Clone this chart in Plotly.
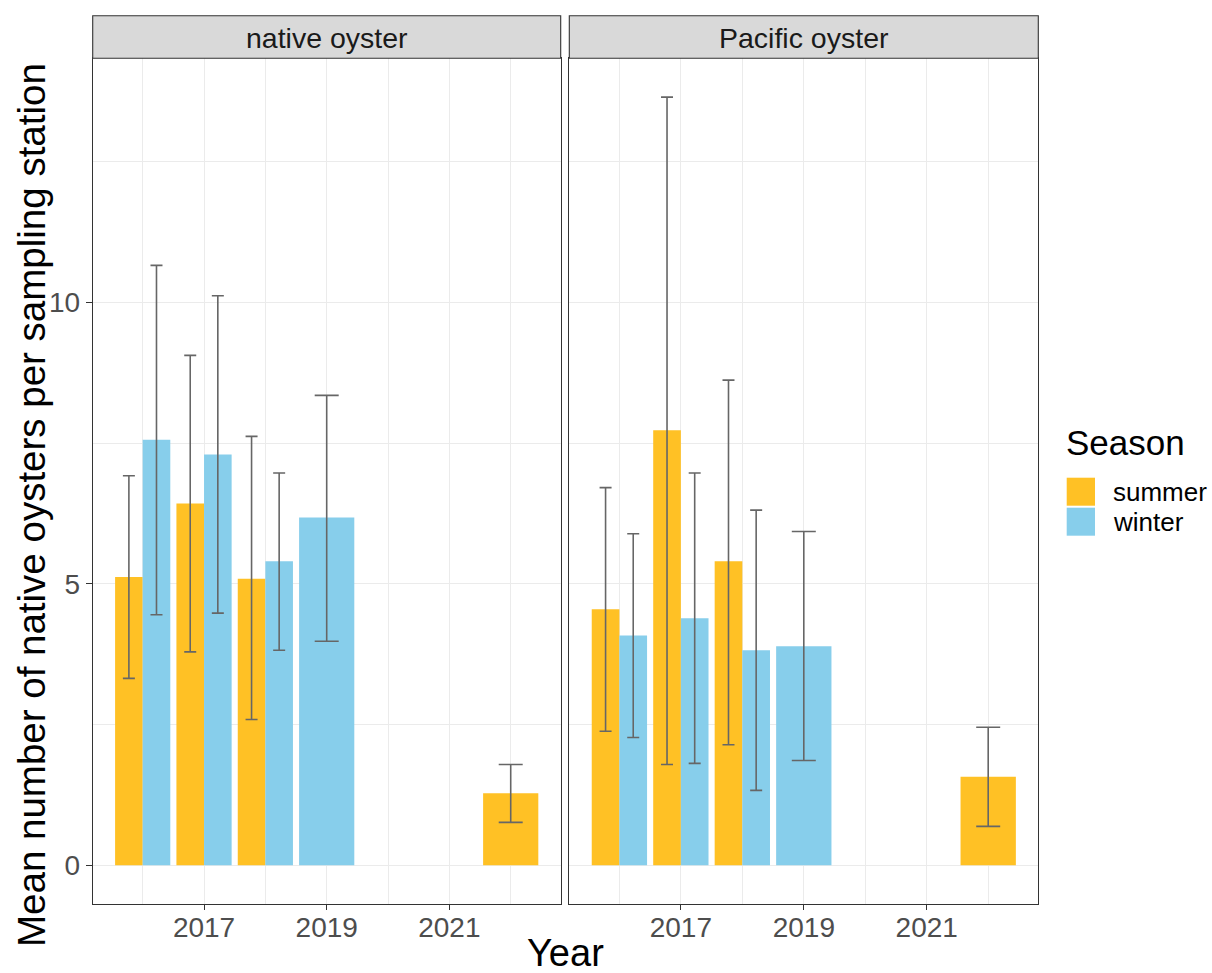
import plotly.graph_objects as go

# ---------------- data ----------------
years = [2016, 2016, 2017, 2017, 2018, 2018, 2019, 2022]
seasons = ["summer", "winter", "summer", "winter", "summer", "winter", "winter", "summer"]

native_mean = [5.12, 7.56, 6.43, 7.30, 5.09, 5.40, 6.18, 1.28]
native_lo = [3.32, 4.45, 3.79, 4.48, 2.59, 3.82, 3.98, 0.76]
native_hi = [6.92, 10.66, 9.06, 10.12, 7.62, 6.97, 8.35, 1.79]

pacific_mean = [4.55, 4.08, 7.73, 4.39, 5.40, 3.82, 3.89, 1.57]
pacific_lo = [2.38, 2.27, 1.79, 1.81, 2.14, 1.33, 1.86, 0.69]
pacific_hi = [6.71, 5.89, 13.65, 6.97, 8.62, 6.31, 5.93, 2.45]

facet_labels = ["native oyster", "Pacific oyster"]
season_order = ["summer", "winter"]
x_ticks = [2017, 2019, 2021]
x_minor = [2016, 2018, 2020, 2022]
y_ticks = [0, 5, 10]
y_minor = [2.5, 7.5, 12.5]

# ---------------- styling ----------------
colors = {"summer": "#FFC125", "winter": "#87CEEB"}
FONT = "Liberation Sans, Arial, sans-serif"
W, H = 1212, 973

def px_x(p):
    return p / W

def px_y(p):
    return 1 - p / H

x_domains = [[px_x(92.7), px_x(560.7)], [px_x(569.3), px_x(1038.3)]]
y_domain = [px_y(904), px_y(58.3)]
strip_top = px_y(15.7)
x_range = [2015.185, 2022.815]
y_range = [-0.69, 14.34]

# dodge positions (position_dodge, width 0.9)
pairs = set(zip(years, seasons))
widths, offsets, centers, nslots = [], [], [], []
for yr, s in zip(years, seasons):
    present = [ss for ss in season_order if (yr, ss) in pairs]
    n = len(present)
    w = 0.9 / n
    off = -0.45 + present.index(s) * w
    widths.append(w)
    offsets.append(off)
    centers.append(yr + off + w / 2)
    nslots.append(n)

fig = go.Figure()
panel_data = [
    (native_mean, native_lo, native_hi, "x", "y"),
    (pacific_mean, pacific_lo, pacific_hi, "x2", "y2"),
]

for mean, lo, hi, xa, ya in panel_data:
    for s in season_order:
        idx = [i for i, ss in enumerate(seasons) if ss == s]
        fig.add_trace(go.Bar(
            x=[years[i] for i in idx],
            y=[mean[i] for i in idx],
            width=[widths[i] for i in idx],
            offset=[offsets[i] for i in idx],
            marker=dict(color=colors[s], line=dict(width=0)),
            name=s, showlegend=False, xaxis=xa, yaxis=ya,
        ))
    for n, capw in [(2, 6), (1, 12)]:
        idx = [i for i in range(len(years)) if nslots[i] == n]
        fig.add_trace(go.Scatter(
            x=[centers[i] for i in idx],
            y=[mean[i] for i in idx],
            mode="markers",
            marker=dict(size=1, color="rgba(0,0,0,0)"),
            error_y=dict(type="data", symmetric=False,
                         array=[hi[i] - mean[i] for i in idx],
                         arrayminus=[mean[i] - lo[i] for i in idx],
                         color="#666666", thickness=1.6, width=capw),
            showlegend=False, xaxis=xa, yaxis=ya, hoverinfo="skip",
        ))

grid = "#EBEBEB"
xaxis_common = dict(
    range=x_range, tickmode="array", tickvals=x_ticks,
    ticktext=[str(t) for t in x_ticks],
    ticks="outside", ticklen=5, tickwidth=1.1, tickcolor="#333333",
    tickfont=dict(family=FONT, size=28, color="#4D4D4D"),
    ticklabelstandoff=-7,
    showgrid=True, gridcolor=grid, gridwidth=1.1,
    minor=dict(tickvals=x_minor, showgrid=True, gridcolor=grid, gridwidth=0.7, ticks=""),
    zeroline=False, showline=True, mirror=True, linecolor="#333333", linewidth=1.1,
    fixedrange=True,
)
yaxis_common = dict(
    range=y_range, tickmode="array", tickvals=y_ticks,
    showgrid=True, gridcolor=grid, gridwidth=1.1,
    minor=dict(tickvals=y_minor, showgrid=True, gridcolor=grid, gridwidth=0.7, ticks=""),
    zeroline=False, showline=True, mirror=True, linecolor="#333333", linewidth=1.1,
    domain=y_domain, fixedrange=True,
)

fig.update_layout(
    width=W, height=H,
    margin=dict(l=0, r=0, t=0, b=0),
    paper_bgcolor="white", plot_bgcolor="white",
    barmode="overlay", showlegend=False,
    font=dict(family=FONT),
    xaxis=dict(domain=x_domains[0], anchor="y", **xaxis_common),
    xaxis2=dict(domain=x_domains[1], anchor="y2", **xaxis_common),
    yaxis=dict(anchor="x", ticks="outside", ticklen=6, tickwidth=1.1, tickcolor="#333333",
               tickfont=dict(family=FONT, size=28, color="#4D4D4D"), **yaxis_common),
    yaxis2=dict(anchor="x2", matches="y", showticklabels=False, ticks="", **yaxis_common),
)

shapes = []
annotations = []
for d, lab in zip(x_domains, facet_labels):
    shapes.append(dict(type="rect", xref="paper", yref="paper",
                       x0=d[0], x1=d[1], y0=y_domain[1], y1=strip_top,
                       fillcolor="#D9D9D9", line=dict(color="#333333", width=1.1), layer="above"))
    annotations.append(dict(xref="paper", yref="paper", x=(d[0] + d[1]) / 2,
                            y=px_y(38), text=lab, showarrow=False,
                            xanchor="center", yanchor="middle",
                            font=dict(family=FONT, size=28.5, color="#1A1A1A")))

# axis titles
annotations.append(dict(xref="paper", yref="paper", x=(x_domains[0][0] + x_domains[1][1]) / 2,
                        y=px_y(953), text="Year", showarrow=False, xanchor="center",
                        yanchor="middle", font=dict(family=FONT, size=38, color="black")))
annotations.append(dict(xref="paper", yref="paper", x=px_x(32), y=px_y(505),
                        text="Mean number of native oysters per sampling station",
                        textangle=-90, showarrow=False, xanchor="center", yanchor="middle",
                        font=dict(family=FONT, size=38.5, color="black")))

# legend (drawn manually, ggplot style)
annotations.append(dict(xref="paper", yref="paper", x=px_x(1064), y=px_y(443),
                        text="Season", showarrow=False, xanchor="left", yanchor="middle",
                        font=dict(family=FONT, size=35, color="black")))
key_tops = [477.7, 507.7]
for s, kt in zip(season_order, key_tops):
    shapes.append(dict(type="rect", xref="paper", yref="paper",
                       x0=px_x(1066.7), x1=px_x(1095), y0=px_y(kt + 28), y1=px_y(kt),
                       fillcolor=colors[s], line=dict(width=0)))
    annotations.append(dict(xref="paper", yref="paper", x=px_x(1111), y=px_y(kt + 14),
                            text=s, showarrow=False, xanchor="left", yanchor="middle",
                            font=dict(family=FONT, size=26, color="black")))

fig.update_layout(shapes=shapes, annotations=annotations)

fig.write_html("out.html", config={"displayModeBar": False},
               post_script="document.body.style.margin='0';document.body.style.overflow='hidden';")
